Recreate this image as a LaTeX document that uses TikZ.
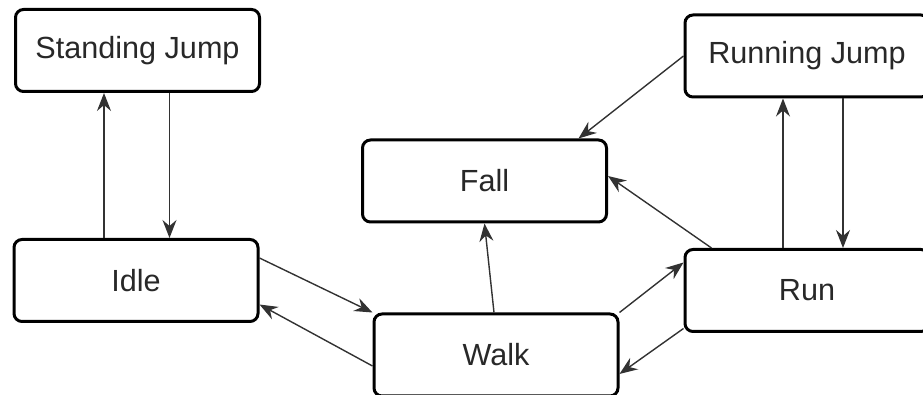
\documentclass[tikz,border=0pt]{standalone}
\usepackage{fontspec}
\setmainfont{Liberation Sans}
\usetikzlibrary{arrows.meta}
\definecolor{mtext}{RGB}{40,40,40}
\definecolor{mline}{RGB}{50,50,50}

\begin{document}
\begin{tikzpicture}[x={(0.5pt,0)}, y={(0,-0.5pt)},
    state/.style={draw, line width=1.5pt, rounded corners=4pt, minimum width=122pt, minimum height=41pt, text=mtext, font=\fontsize{15.3}{18}\selectfont},
    arrow/.style={-{Stealth[length=9pt, width=7pt, inset=3pt]}, line width=0.7pt, color=mline},
]
\clip (0,0) rectangle (923,395);

\node[state] (sjump) at (137.5,50.5) {Standing Jump};
\node[state] (idle) at (136,280.5) {Idle};
\node[state] (fall) at (484.5,181) {Fall};
\node[state] (walk) at (496,355) {Walk};
\node[state] (rjump) at (807,56) {Running Jump};
\node[state] (run) at (807,290.5) {Run};

\draw[arrow] ([xshift=-16pt]idle.north) -- ([xshift=-16pt]idle.north |- sjump.south);
\draw[arrow] ([xshift=16pt]sjump.south) -- ([xshift=16pt]sjump.south |- idle.north);

\draw[arrow] ([yshift=-10pt]idle.north east) -- (walk.north west);
\draw[arrow] ([yshift=-5.5pt]walk.west) -- ([yshift=-12pt]idle.east);
\draw[arrow] ([xshift=-1pt]walk.north) -- (fall.south);

\draw[arrow] (walk.north east) -- ([yshift=14pt]run.west);
\draw[arrow] ([yshift=-19pt]run.west) -- ([yshift=-9.5pt]walk.east);
\draw[arrow] ([xshift=14pt]run.north west) -- ([yshift=2.5pt]fall.east);
\draw[arrow] (rjump.west) -- ([xshift=47pt]fall.north);

\draw[arrow] ([xshift=-12pt]run.north) -- ([xshift=-12pt]run.north |- rjump.south);
\draw[arrow] ([xshift=18pt]rjump.south) -- ([xshift=18pt]rjump.south |- run.north);

\end{tikzpicture}
\end{document}
